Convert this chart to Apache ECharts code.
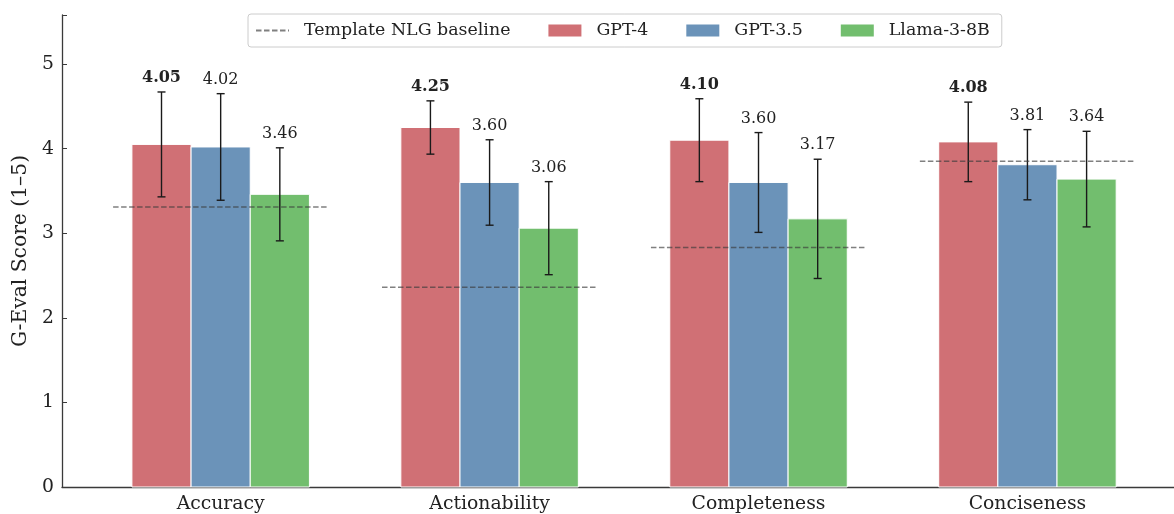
<!DOCTYPE html>
<html>
<head>
<meta charset="utf-8">
<script src="https://cdn.jsdelivr.net/npm/echarts@6/dist/echarts.min.js"></script>
<style>
html,body{margin:0;padding:0;background:#fff;}
#chart{width:1174px;height:514px;}
</style>
</head>
<body>
<div id="chart"></div>
<script>
// ---- data ----
var categories = ['Accuracy', 'Actionability', 'Completeness', 'Conciseness'];
var modelNames = ['GPT-4', 'GPT-3.5', 'Llama-3-8B'];
var gpt4 = [4.05, 4.25, 4.10, 4.08];
var gpt35 = [4.02, 3.60, 3.60, 3.81];
var llama = [3.46, 3.06, 3.17, 3.64];
var gpt4Err = [0.62, 0.315, 0.49, 0.47];
var gpt35Err = [0.63, 0.505, 0.59, 0.415];
var llamaErr = [0.55, 0.55, 0.705, 0.565];
var baseline = [3.31, 2.36, 2.83, 3.85];
var baselineName = 'Template NLG baseline';
var yTicks = [0, 1, 2, 3, 4, 5];

var colors = ['#d07075', '#6b93b9', '#72be6e'];
var FONT = 'DejaVu Serif';
var BAR_W = 0.22;
var HALF_SPAN = 0.4;

var values = [gpt4, gpt35, llama];
var errs = [gpt4Err, gpt35Err, llamaErr];

function barSeries(k) {
  var data = categories.map(function (c, i) {
    return [i + (k - 1) * BAR_W, values[k][i], errs[k][i]];
  });
  return {
    type: 'custom',
    name: modelNames[k],
    color: colors[k],
    z: 2,
    data: data,
    encode: { x: 0, y: 1 },
    renderItem: function (params, api) {
      var x = api.value(0), v = api.value(1), e = api.value(2);
      var p0 = api.coord([x - BAR_W / 2, 0]);
      var p1 = api.coord([x + BAR_W / 2, v]);
      var hi = api.coord([x, v + e]);
      var lo = api.coord([x, v - e]);
      var cap = 4;
      return {
        type: 'group',
        children: [
          { type: 'rect', shape: { x: p0[0], y: p1[1], width: p1[0] - p0[0], height: p0[1] - p1[1] },
            style: { fill: colors[k], stroke: '#ffffff', lineWidth: 1 } },
          { type: 'line', shape: { x1: hi[0], y1: hi[1], x2: lo[0], y2: lo[1] },
            style: { stroke: '#1a1a1a', lineWidth: 1.4 }, z2: 10 },
          { type: 'line', shape: { x1: hi[0] - cap, y1: hi[1], x2: hi[0] + cap, y2: hi[1] },
            style: { stroke: '#1a1a1a', lineWidth: 1.4 }, z2: 10 },
          { type: 'line', shape: { x1: lo[0] - cap, y1: lo[1], x2: lo[0] + cap, y2: lo[1] },
            style: { stroke: '#1a1a1a', lineWidth: 1.4 }, z2: 10 },
          { type: 'text', x: hi[0], y: hi[1] - 6, z2: 11,
            style: { text: v.toFixed(2), align: 'center', verticalAlign: 'bottom',
                     font: (k === 0 ? 'bold ' : '') + '16px "DejaVu Serif"', fill: '#222' } }
        ]
      };
    }
  };
}

var baseData = [];
categories.forEach(function (c, i) {
  baseData.push([i - HALF_SPAN, baseline[i]]);
  baseData.push([i + HALF_SPAN, baseline[i]]);
  baseData.push('-');
});

var option = {
  animation: false,
  backgroundColor: '#ffffff',
  textStyle: { fontFamily: FONT },
  grid: { left: 62, right: 0, top: 15, bottom: 27 },
  legend: {
    left: 248, top: 14,
    padding: [8, 12, 8, 7],
    itemGap: 38,
    itemWidth: 33, itemHeight: 12,
    borderColor: '#cccccc', borderWidth: 1, borderRadius: 3,
    textStyle: { fontFamily: FONT, fontSize: 17.4, color: '#222', padding: [0, 0, 0, 10] },
    data: [
      { name: baselineName, itemStyle: { opacity: 0 } },
      { name: modelNames[0], icon: 'rect' },
      { name: modelNames[1], icon: 'rect' },
      { name: modelNames[2], icon: 'rect' }
    ]
  },
  xAxis: {
    type: 'value',
    min: -0.59, max: 3.545,
    splitLine: { show: false },
    axisLine: { show: true, onZero: false, lineStyle: { color: '#3a3a3a', width: 1.3 } },
    axisTick: { show: true, inside: true, length: 5, customValues: [0, 1, 2, 3], lineStyle: { color: '#3a3a3a', width: 1 } },
    axisLabel: { customValues: [0, 1, 2, 3], fontFamily: FONT, fontSize: 18.8, color: '#222', margin: 8,
      formatter: function (v) { return categories[Math.round(v)] || ''; } }
  },
  yAxis: {
    type: 'value',
    min: 0, max: 5.58, interval: 1,
    name: 'G-Eval Score (1–5)',
    nameLocation: 'middle',
    nameGap: 31,
    nameTextStyle: { fontFamily: FONT, fontSize: 20.3, color: '#222' },
    splitLine: { show: false },
    axisLine: { show: true, onZero: false, lineStyle: { color: '#3a3a3a', width: 1.3 } },
    axisTick: { show: true, inside: true, length: 5, lineStyle: { color: '#3a3a3a', width: 1 } },
    axisLabel: { fontFamily: FONT, fontSize: 18.8, color: '#222', margin: 8,
      customValues: yTicks,
      formatter: function (v) { return String(v); } }
  },
  series: [
    barSeries(0), barSeries(1), barSeries(2),
    {
      type: 'line',
      name: baselineName,
      data: baseData,
      z: 5,
      symbol: 'none',
      connectNulls: false,
      color: 'rgba(60,60,60,0.65)',
      lineStyle: { type: [5.5, 2.5], width: 1.5, color: 'rgba(60,60,60,0.65)' }
    }
  ]
};

var chart = echarts.init(document.getElementById('chart'), null, { renderer: 'canvas' });
chart.setOption(option);
</script>
</body>
</html>
